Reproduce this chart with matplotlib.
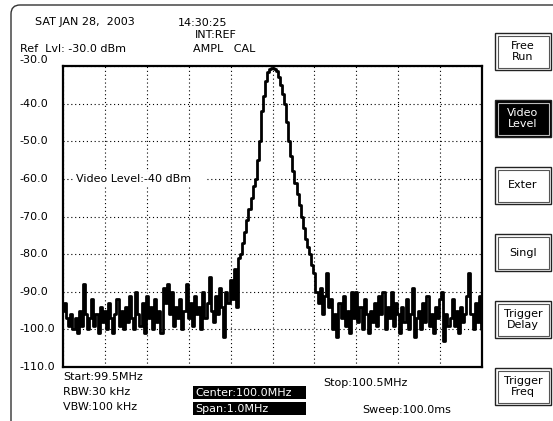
import numpy as np
import matplotlib
matplotlib.use("Agg")
import matplotlib.pyplot as plt
from matplotlib.patches import Rectangle, FancyBboxPatch
from matplotlib.transforms import blended_transform_factory

plt.rcParams['font.family'] = ['DejaVu Sans']

# trace, dBm, 201 points from 99.5 to 100.5 MHz
level = [
    -95, -93, -97, -99, -96, -100, -97, -101, -95, -99,
    -88, -96, -100, -97, -92, -99, -96, -101, -94, -98,
    -95, -100, -93, -97, -101, -96, -92, -99, -95, -100,
    -94, -98, -91, -97, -100, -90, -96, -99, -93, -101,
    -91, -97, -94, -100, -92, -98, -95, -101, -89, -93,
    -88, -96, -90, -99, -94, -97, -92, -100, -95, -88,
    -97, -93, -99, -91, -96, -94, -100, -90, -97, -93,
    -86, -95, -98, -91, -96, -89, -94, -102, -90, -93,
    -87, -92, -84, -94, -81, -80, -77, -74, -71, -68,
    -65, -62, -60, -55, -50, -42, -38, -34, -31.5, -30.8,
    -30.6, -30.8, -31.2, -33, -35, -37.5, -40, -45, -50, -54,
    -58, -61, -64, -67, -70, -73, -76, -78, -80, -83,
    -85, -90, -93, -89, -96, -91, -85, -94, -92, -100,
    -96, -102, -93, -97, -91, -99, -95, -101, -90, -97,
    -90, -98, -94, -100, -92, -96, -101, -95, -98, -93,
    -99, -91, -96, -90, -100, -94, -97, -90, -99, -93,
    -96, -101, -94, -98, -92, -100, -96, -89, -102, -97,
    -95, -100, -93, -98, -91, -99, -96, -101, -94, -97,
    -92, -90, -103, -96, -99, -97, -92, -99, -95, -101,
    -94, -98, -96, -91, -85, -96, -100, -93, -98, -91, -100,
]
f_start, f_stop = 99.5, 100.5
ref_lvl, bottom_lvl = -30, -110
y_ticks = list(range(-30, -111, -10))

header = [("SAT JAN 28,  2003", 35, 22), ("14:30:25", 178, 23),
          ("INT:REF", 195, 35), ("Ref  Lvl: -30.0 dBm", 20, 49),
          ("AMPL   CAL", 193, 49)]
footer = [("Start:99.5MHz", 63, 377), ("RBW:30 kHz", 63, 392),
          ("VBW:100 kHz", 63, 407), ("Stop:100.5MHz", 323, 383),
          ("Sweep:100.0ms", 362, 410)]
boxed = [("Center:100.0MHz", 386), ("Span:1.0MHz", 402)]
buttons = ["Free\nRun", "Video\nLevel", "Exter", "Singl", "Trigger\nDelay", "Trigger\nFreq"]
active = "Video\nLevel"

W, H = 553, 421
fig = plt.figure(figsize=(W / 100, H / 100), dpi=100)

# background layer in pixel coordinates
bg = fig.add_axes([0, 0, 1, 1])
bg.set_xlim(0, W)
bg.set_ylim(H, 0)
bg.axis('off')

frame = FancyBboxPatch((11, 5), 700, 600, boxstyle="round,pad=0,rounding_size=9",
                       fc='white', ec='#333333', lw=1.0)
bg.add_patch(frame)

fs = 8
for t, x, y in header + footer:
    bg.text(x, y, t, fontsize=fs, ha='left', va='center')
for t, y in boxed:
    bg.add_patch(Rectangle((193, y), 113, 13, fc='black', ec='none'))
    bg.text(195, y + 6.5, t, fontsize=fs, color='white', ha='left', va='center')

# soft keys
for k, b in enumerate(buttons):
    top = 33 + 67 * k
    on = b == active
    bg.add_patch(Rectangle((495, top), 56, 37, fc='black' if on else 'white',
                           ec='#222222', lw=1.0))
    bg.add_patch(Rectangle((497.5, top + 2.5), 51, 32, fc='none',
                           ec='#bbbbbb' if on else '#555555', lw=0.8))
    bg.text(523, top + 18.5, b, fontsize=fs, ha='center', va='center',
            color='white' if on else 'black', linespacing=1.15)

# graticule
ax = fig.add_axes([63 / W, 1 - 367 / H, 419 / W, 301 / H])
freq = np.linspace(f_start, f_stop, len(level))
ax.plot(freq, level, color='black', lw=2.0, drawstyle='steps-mid', zorder=4)
ax.set_xlim(f_start, f_stop)
ax.set_ylim(bottom_lvl, ref_lvl)
ax.set_xticks(np.linspace(f_start, f_stop, 11))
ax.set_yticks(y_ticks)
ax.tick_params(length=0, labelbottom=False, labelleft=False)
ax.grid(True, color='black', lw=0.8, linestyle=(0, (1, 2.5)))
for s in ax.spines.values():
    s.set_linewidth(1.6)
    s.set_color('black')

tr = blended_transform_factory(ax.transAxes, ax.transData)
for v in y_ticks:
    yy = v + 1.6 if v == ref_lvl else v
    ax.text(-0.103, yy, f"{v:.1f}", transform=tr, fontsize=fs,
            ha='left', va='center', clip_on=False)

ax.text(0.031, -60, "Video Level:-40 dBm    ", transform=tr, fontsize=fs,
        ha='left', va='center', zorder=3,
        bbox=dict(fc='white', ec='none', pad=1.5))

fig.savefig("out.png", dpi=100)
